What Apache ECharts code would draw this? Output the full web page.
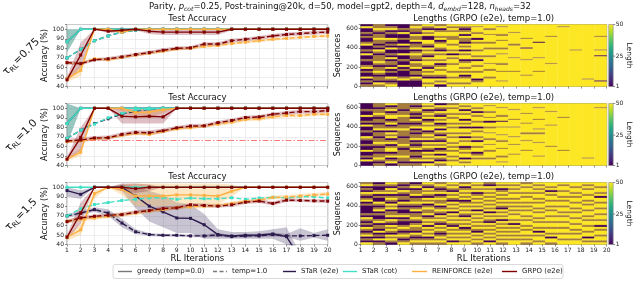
<!DOCTYPE html>
<html><head><meta charset="utf-8">
<script src="https://cdn.jsdelivr.net/npm/echarts@6/dist/echarts.min.js"></script>
<style>html,body{margin:0;padding:0;background:#fff}#c{width:635px;height:281px}</style>
</head><body><div id="c"></div>
<script>
// ---------------- DATA ----------------
const iterations = ['1','2','3','4','5','6','7','8','9','10','11','12','13','14','15','16','17','18','19','20'];
const accTicks = [40,50,60,70,80,90,100];
const seqTicks = [0,200,400,600];
const rowLabels = ['0.75','1.0','1.5'];
const chanceLevel = 66.7; // tau=1.0 reference line

// tau = 0.75
const r1_starE2E_g = [87,100,100,100,100,100,100,100,100,100,100,100,100,100,100,100,100,100,100,100];
const r1_starE2E_t = [70,79,88,93,97,99,100,100,100,100,100,100,100,100,100,100,100,100,100,100];
const r1_starCot_g = [87,100,100,100,100,100,100,100,100,100,100,100,100,100,100,100,100,100,100,100];
const r1_starCot_t = [70,79,88,93,97,99,100,100,100,100,100,100,100,100,100,100,100,100,100,100];
const r1_reinf_g = [48,57,100,100,97,100,100,100,100,100,100,100,100,100,100,100,100,100,100,100];
const r1_reinf_t = [65,64,69,68,70.5,73,75,77,79.5,80,82,83,85,86.5,88,89.5,90.5,91.5,92.5,93];
const r1_grpo_g = [47,73,100,98,99,100,98,97,97,97,97,97,100,100,100,100,100,100,100,100];
const r1_grpo_t = [65,64,68,69,71,73.5,75.5,78,80,80.5,84.5,84.5,88,89.5,91,93,94.5,95.5,96.5,97];
const r1_starCot_g_lo = [76,100,100,100,100,100,100,100,100,100,100,100,100,100,100,100,100,100,100,100];
const r1_starCot_g_hi = [100,100,100,100,100,100,100,100,100,100,100,100,100,100,100,100,100,100,100,100];
const r1_reinf_g_lo = [45,51,100,99,95,99,100,100,100,100,100,100,100,100,100,100,100,100,100,100];
const r1_reinf_g_hi = [52,62,100,100,100,100,100,100,100,100,100,100,100,100,100,100,100,100,100,100];
const r1_grpo_g_lo = [45,60,100,96,97,99,95,94,94,94,94,94,99,100,100,100,100,100,100,100];
const r1_grpo_g_hi = [50,86,100,100,100,100,100,100,100,100,100,100,100,100,100,100,100,100,100,100];
const r1_reinf_t_lo = [63.5,62.5,67.5,66.5,69,71.5,73.5,75.5,78,78.5,80.5,81.5,83.5,85,86.5,88,89,90,91,91.5];
const r1_reinf_t_hi = [66.5,65.5,70.5,69.5,72,74.5,76.5,78.5,81,81.5,83.5,84.5,86.5,88,89.5,91,92,93,94,94.5];
const r1_grpo_t_lo = [63,62,66.5,67,69,71.5,73.5,76,78,78.5,82.5,82.5,86,87.5,89,91,92.5,93.5,94.5,95];
const r1_grpo_t_hi = [67,66,69.5,71,73,75.5,77.5,80,82,82.5,86.5,86.5,90,91.5,93,95,96.5,97.5,98.5,99];

// tau = 1.0
const r2_starE2E_g = [84,100,100,100,100,100,100,100,100,100,100,100,100,100,100,100,100,100,100,100];
const r2_starE2E_t = [68.4,77,84,89,94,97,99,100,100,100,100,100,100,100,100,100,100,100,100,100];
const r2_starCot_g = [84,100,100,100,100,100,100,100,100,100,100,100,100,100,100,100,100,100,100,100];
const r2_starCot_t = [68.4,77,83.4,90,94.5,98,99,100,100,100,100,100,100,100,100,100,100,100,100,100];
const r2_reinf_g = [46.6,54,100,100,100,95.5,96,98.5,100,100,100,100,100,100,100,100,100,100,100,100];
const r2_reinf_t = [65,66,68,69,71.6,73.6,72.6,75.7,78.5,79.5,81.3,83.4,85.4,88.2,88.9,91,92.4,92.4,93.8,93.8];
const r2_grpo_g = [46.6,69.5,100,100,91.7,91,91.7,91,100,100,100,100,100,100,100,100,100,100,100,100];
const r2_grpo_t = [65.7,66.7,68.8,69.1,72.6,74.7,74.3,76.4,79.5,81.3,81.6,85,87.2,90.3,91,93.8,95.1,96.5,96.5,97.6];
const r2_starCot_g_lo = [62,100,100,100,100,100,100,100,100,100,100,100,100,100,100,100,100,100,100,100];
const r2_starCot_g_hi = [105,100,100,100,100,100,100,100,100,100,100,100,100,100,100,100,100,100,100,100];
const r2_reinf_g_lo = [45,50,100,100,97,90,90,95,100,100,100,100,100,100,100,100,100,100,100,100];
const r2_reinf_g_hi = [48,58,100,100,100,100,100,100,100,100,100,100,100,100,100,100,100,100,100,100];
const r2_grpo_g_lo = [45,56,100,100,84,84,84,84,100,100,100,100,100,100,100,100,100,100,100,100];
const r2_grpo_g_hi = [49,80,100,100,100,100,100,100,100,100,100,100,100,100,100,100,100,100,100,100];
const r2_reinf_t_lo = [63.5,64.5,66.5,67.5,70,72,71,74,77,78,79.5,81.5,83.5,86.5,87,89,90.5,90.5,92,92];
const r2_reinf_t_hi = [66.5,67.5,69.5,70.5,73,75,74,77.5,80,81,83,85.3,87.3,90,90.8,93,94.3,94.3,95.6,95.6];
const r2_grpo_t_lo = [63.5,64.5,66.5,67,70.5,72.5,72,74,77.5,79,79.5,83,85,88.5,89,92,93,94.5,94.5,95.5];
const r2_grpo_t_hi = [68,69,71,71.5,74.8,77,76.6,78.8,81.5,83.6,83.8,87,89.4,92.1,93,95.6,97.2,98.5,98.5,99.6];

// tau = 1.5
const r3_starE2E_g = [96.5,92.6,100,100,100,90.8,80.2,74.2,67.8,67.4,60.7,50.4,49,49.7,50,51,48.3,25,25,25];
const r3_starE2E_t = [70,73,76.6,73,62.5,53.3,50.4,49.7,49.7,49,49,50,48.3,49,49,50.4,49,49,49.4,49.7];
const r3_starCot_g = [100,100,100,100,100,100,100,100,100,100,100,100,100,100,100,100,100,100,100,100];
const r3_starCot_t = [70,77.3,82,84,86.2,87.3,89,89,87.3,88.7,88,88,89,87.3,88.7,89.4,89,90,90,88.7];
const r3_reinf_g = [47.6,55.4,93.3,100,97.9,90.8,90.8,90.8,92,92,91.5,90.8,95.8,100,100,100,100,100,100,100];
const r3_reinf_t = [64.2,66.7,67.8,69.6,71.3,73,75.2,76.6,79,79.5,80.2,80.9,83,85.1,86.5,89.4,89.7,90.8,91.9,92.9];
const r3_grpo_g = [47.6,73,100,100,100,98.6,100,100,100,100,100,100,100,100,100,100,100,100,100,100];
const r3_grpo_t = [64,67.8,69.6,70.6,71.3,73.8,75.6,77.7,78.4,81.6,80.9,80.2,81.6,84.4,85.5,83,86.5,86.2,85.8,85.5];
const r3_starE2E_g_lo = [90,88,100,100,96,78,64,58,52,52,46,46,46,46,46,46,40,20,20,20];
const r3_starE2E_g_hi = [100,97,100,100,103,101,96,92,84,82,72,56,53,53,54,56,58,30,30,30];
const r3_starE2E_t_lo = [68,71,74,70,58,51,49,48,48,47.5,47.5,48,47,47.5,47.5,48.5,47.5,44,47,44];
const r3_starE2E_t_hi = [72,75,79,77,67,56,52,51,51,50.5,50.5,52,50,51,51,52.5,51,57,52,56];
const r3_reinf_g_lo = [44,50,88,100,92,80,80,80,82,82,82,82,90,100,100,100,100,100,100,100];
const r3_reinf_g_hi = [51,61,97,100,103,104,104,104,104,104,104,104,103,100,100,100,100,100,100,100];
const r3_grpo_g_lo = [45,62,100,100,96,94,96,100,100,100,100,100,100,100,100,100,100,100,100,100];
const r3_grpo_g_hi = [50,84,100,100,104,104,103,100,100,100,100,100,100,100,100,100,100,100,100,100];
const r3_reinf_t_lo = [62,64.5,66,67.5,69,71,73,74.5,77,77.5,78,79,81,83,84.5,87.5,87.5,89,90,91];
const r3_reinf_t_hi = [66.5,69,70,71.5,73.5,75,77.5,79,81,81.5,82.5,83,85,87,88.5,91.5,92,93,94,95];
const r3_grpo_t_lo = [62,66,67.5,68.5,69.5,72,73.5,75.5,76.5,79.5,79,78.5,79.5,82.5,83.5,81,84.5,84.5,84,83.5];
const r3_grpo_t_hi = [66,70,71.5,72.5,73.5,76,77.5,80,80.5,83.5,83,82,83.5,86.5,87.5,85,88.5,88,87.5,87.5];

// Heatmap columns (RL iterations 1..20), each char = 20 sequences top(640) -> bottom(0)
// P = short (purple), B = mixed (brown), Y = length 50 (yellow); lowercase = thin stripe
const heat1Cols = [
 "PYPPBPBPPBYPPBPYPPBPPBYPBPPYPBPB","BBYBPBBYBBPBPYBPBBBYBPBBYBPBBPYB","PBYPBPPYBPBPYPPBPYPBBPYPBPPYBPBY",
 "PPBPYPPBPPYPBPPYPPBPPYPBPPPBYPPP","BYBBPYBBYPBBYPBYBBPYBBYPBBPYBPPP","YBPYBYPPYYBPYBYBPYBYYBPYBYBPYYBY",
 "BYPBYYBYPBYYBPYBYYBYPBYBYYBPYBYP","YBYBYYBBYYBYYBYPYBYYBYYYBYYBYYBY","YBPBYPYBBPYBYPYBYYPBYYBYBYPBYYBY",
 "YbYYBYYPYBYYYBYYBYPYYBYYBYYYPBYY","YYBYYbYYYBYYBYYYBYYYbYYBYYYBYYYY","YbYYYBYYbYYYBYYbYYYYBYYYbYYYYbYY",
 "YYYYbYYYYYBYYYYYYbYYYYYYbYYYYYYY","YYYYYYYbYYYYpYYYYYbYYYYYYYbYYYYY","YYYYYYYYYpYYYYYYYbYYYYYYbYYYYYYY",
 "YYYYYYbYYYYYYYYYYYYYbYYYYYYYYYYY","YbYYYYYYYYYYYYYYYYYYYYYYYYYYYYYY","YYYYYYYYYYYYYbYYYYYYYYYYYYYYYYYY",
 "YYYYYYYYYYYYYYYYYYYYYYYYYYYYbYYY","YYYYYYbYYYYYYbYYpYYYYYYYYYYYYpYY"];
const heat2Cols = [
 "PPPBPPYPPBPYPPBPPYBPPBPPYPPBPYPP","BBPBBYBPBBPBBYPBBPBBYBPBBPBBYBPB","YPBYPBYYPBYPBYPYBYPBYPBYYPBYPBYP",
 "BBBPBBYBBBPBBYBBBPBBBYBPBBBYBBPB","BPBYBPBPYBPBYPBPBBYPBPBYPBBPBYPB","YBYPBYBYPBYBYYPBYBYPYBYBPYBYBYPY",
 "PYBPYBPYBYPBYPYBPYBPYBYPBYPYBPYB","BYBYYBYBYYBYBYYBYBYYBYBYBYYBYBYY","YBYPYBYYPYBYPYYBYPYBYYPBYBYYPYBY",
 "YYBYPYBYYBYYPYBYYBYPYYBYYPBYBYYY","YbYYBYYbYPYYBYYbYYBYYbYYBYYYBYYY","YYbYYYBYYpYYbYYYbYYBYYYbYYYBYYbY",
 "YYYbYYYYbYYYbYYYYbYYYbYYYYbYYYYY","YYYYYbYYYYbYYYYBYYYbYYYYbYYYYYYY","YYbYYYYYbYYYYbYBYYYYbYYYYYYbYYYY",
 "YYYYbYYYYYYbYYYYYYYYYYbYYYYYYYYY","YYYYYYYbYYYYYYYYYYYYYYYYbYYYYYYY","YYYYYYYYYYYYYYYYYYYYYYYYYYYYYYYY",
 "YYYYYYYYYYYYYYYYYYYYYYYYYYYYbYYY","YYbYYYYYYYYYYYYYYYYYYYYYYYYYYYYY"];
const heat3Cols = [
 "BYPBPYBPBYPBPPPPBPYBPBPYBPBYPBPY","PBPPBYPBPPYBPBYPBPPBYPBBPYPBPYPB","YBPYBYPBYBPYBYPBBYPYBPYBYBPYBYBP",
 "BPBPYBPBBPYBPBPPBYPBPPBYBPBYBPBY","PBYPBBYPBBYBPBYPBBYBPBYBBPYBPBYB","YBPYBYBPYBYPBYBBYPBYBYPYBYBYPBYB",
 "BYBPBYPBYBBYPBYBPYBYBPYBYBPBYBYB","YBYBPYBYBPYBYBYPYBYBYBPYBYBYBYPY","BYPBYBYBYPBYBYBYBPYBYBYPBYBYBYBY",
 "YBYBYPBYBYBYBYPYBYBYBYBYBPYBYBYB","BPYBYBYBYBYBYBYPYBYBPYBYBYBYBYPY","YBYPBYBYBYBYBPYBYBYPYBYBYBYBYBYB",
 "YBYBYBYYBYBYBYBYBYYBYPYBYBYBYBYY","BYBYYBYBYYBYBYBYYBYBYYBYBYYBYBYB","YBYBYBYYBYBYYBYBYYBYBYYBYPYBYYBY",
 "YYBYPYBYYBYYBYBYYBYYBYYBYYBYPYYB","YBYYBYYBYBYYBYYBYBYYBYYBYYBYYBYY","YYBYYBYBYYBYYBYBYYBYYBYYBYBYYBYY",
 "YBYBYYBYYBYBYYBYYBYBYYBYYBYYPYBY","YYBYYBYPYYBYYBYYBYYBYYPYBYYBYYBY"];

const lengthTicks = [1,25,50];

// ---------------- LAYOUT / STYLE ----------------
const FONT = 'DejaVu Sans';
const TOPS = [24.5, 103.5, 182.5], H = 62;
const LL = 67, LW = 260.7, HL = 360.7, HW = 246;
const C = {starE2E:'#2c1a4d', starCot:'#3fe0c5', reinf:'#fdb03f', grpo:'#800000'};
const BAND = {starE2E:['#3a2a5c',0.28], starCot:['#2f8f80',0.5], reinf:['#fdb03f',0.3], grpo:['#8a1a2a',0.28]};
const HEATPAL = ['#440154','#a57c3b','#fde725'];
const FRAME = '#8c8c8c';

const rows = [
 {sg:r1_starE2E_g, st:r1_starE2E_t, cg:r1_starCot_g, ct:r1_starCot_t, rg:r1_reinf_g, rt:r1_reinf_t, gg:r1_grpo_g, gt:r1_grpo_t,
  bands:[['starCot',r1_starCot_g_lo,r1_starCot_g_hi],['reinf',r1_reinf_g_lo,r1_reinf_g_hi],['grpo',r1_grpo_g_lo,r1_grpo_g_hi],
         ['reinf',r1_reinf_t_lo,r1_reinf_t_hi],['grpo',r1_grpo_t_lo,r1_grpo_t_hi]], heat:heat1Cols},
 {sg:r2_starE2E_g, st:r2_starE2E_t, cg:r2_starCot_g, ct:r2_starCot_t, rg:r2_reinf_g, rt:r2_reinf_t, gg:r2_grpo_g, gt:r2_grpo_t,
  bands:[['starCot',r2_starCot_g_lo,r2_starCot_g_hi],['reinf',r2_reinf_g_lo,r2_reinf_g_hi],['grpo',r2_grpo_g_lo,r2_grpo_g_hi],
         ['reinf',r2_reinf_t_lo,r2_reinf_t_hi],['grpo',r2_grpo_t_lo,r2_grpo_t_hi]], heat:heat2Cols, ref:chanceLevel},
 {sg:r3_starE2E_g, st:r3_starE2E_t, cg:r3_starCot_g, ct:r3_starCot_t, rg:r3_reinf_g, rt:r3_reinf_t, gg:r3_grpo_g, gt:r3_grpo_t,
  bands:[['starE2E',r3_starE2E_g_lo,r3_starE2E_g_hi],['starE2E',r3_starE2E_t_lo,r3_starE2E_t_hi],['reinf',r3_reinf_g_lo,r3_reinf_g_hi],
         ['grpo',r3_grpo_g_lo,r3_grpo_g_hi],['reinf',r3_reinf_t_lo,r3_reinf_t_hi],['grpo',r3_grpo_t_lo,r3_grpo_t_hi]], heat:heat3Cols}
];

function heatData(cols){
  const out=[];
  cols.forEach((s,ci)=>{
    const unit = 640/s.length, half=[];
    for (const ch of s){ if (ch===ch.toLowerCase()) half.push(ch.toUpperCase(),'Y'); else half.push(ch,ch); }
    let i=0;
    while(i<half.length){ let j=i; while(j<half.length && half[j]===half[i]) j++;
      out.push([ci, 640 - j*unit/2, 640 - i*unit/2, 'PBY'.indexOf(half[i])]); i=j; }
  });
  return out;
}

const grids=[], xAxes=[], yAxes=[], series=[], graphics=[];
const tickLabel = {fontFamily:FONT, fontSize:6, color:'#222'};

rows.forEach((r,ri)=>{
  const last = ri===2;
  // line grid
  const gi = grids.length;
  grids.push({left:LL, top:TOPS[ri], width:LW, height:H, show:true, borderColor:FRAME, borderWidth:1, backgroundColor:'transparent'});
  xAxes.push({type:'category', gridIndex:gi, data:iterations, boundaryGap:false,
    axisLine:{show:false}, axisTick:{show:true, length:2, lineStyle:{color:'#444',width:0.6}},
    axisLabel:Object.assign({show:last, margin:3, interval:0}, tickLabel),
    splitLine:{show:true, lineStyle:{color:'#e6e6e6', width:0.7}},
    name: last?'RL Iterations':'', nameLocation:'middle', nameGap:10, nameTextStyle:{fontFamily:FONT,fontSize:8.5,color:'#111'}});
  yAxes.push({type:'value', gridIndex:gi, min:40, max:105, interval:10,
    axisLine:{show:false}, axisTick:{show:true, length:2, lineStyle:{color:'#444',width:0.6}},
    axisLabel:Object.assign({margin:3, formatter:v=>accTicks.includes(v)?String(v):''}, tickLabel),
    splitLine:{show:true, lineStyle:{color:'#e6e6e6', width:0.7}},
    name:'Accuracy (%)', nameLocation:'middle', nameGap:15, nameRotate:90,
    nameTextStyle:{fontFamily:FONT,fontSize:8,color:'#111'}});
  // bands
  r.bands.forEach((b,bi)=>{
    const st = 'band'+ri+'_'+bi;
    series.push({type:'line', xAxisIndex:gi, yAxisIndex:gi, stack:st, data:b[1], symbol:'none', silent:true,
      lineStyle:{opacity:0}, z:1});
    series.push({type:'line', xAxisIndex:gi, yAxisIndex:gi, stack:st, data:b[2].map((h,k)=>h-b[1][k]), symbol:'none', silent:true,
      lineStyle:{opacity:0}, areaStyle:{color:BAND[b[0]][0], opacity:BAND[b[0]][1]}, z:1});
  });
  const addLine=(data,color,dashed,z)=>series.push({type:'line', xAxisIndex:gi, yAxisIndex:gi, data, symbol:'rect', symbolSize:3,
    itemStyle:{color}, lineStyle:{color, width:1.4, type: dashed?[5,2.5]:'solid'}, z, clip:true});
  addLine(r.st,C.starE2E,true,3); addLine(r.sg,C.starE2E,false,3);
  addLine(r.ct,C.starCot,true,4); addLine(r.cg,C.starCot,false,4);
  addLine(r.rt,C.reinf,true,5); addLine(r.rg,C.reinf,false,5);
  addLine(r.gt,C.grpo,true,6); addLine(r.gg,C.grpo,false,6);
  if (r.ref!==undefined){
    series.push({type:'line', xAxisIndex:gi, yAxisIndex:gi, data:[], markLine:{silent:true, symbol:'none', label:{show:false},
      lineStyle:{color:'#ff5a5a', width:1, opacity:0.8, type:[6,2,1.5,2]}, data:[{yAxis:r.ref}]}, z:2});
  }
  // heatmap grid
  const hi = grids.length;
  grids.push({left:HL, top:TOPS[ri], width:HW, height:H, show:true, borderColor:FRAME, borderWidth:1, backgroundColor:'transparent'});
  xAxes.push({type:'value', gridIndex:hi, min:1, max:20, interval:1,
    axisLine:{show:false}, axisTick:{show:true, length:2, lineStyle:{color:'#444',width:0.6}},
    axisLabel:Object.assign({show:last, margin:3}, tickLabel), splitLine:{show:false},
    name: last?'RL Iterations':'', nameLocation:'middle', nameGap:10, nameTextStyle:{fontFamily:FONT,fontSize:8.5,color:'#111'}});
  yAxes.push({type:'value', gridIndex:hi, min:0, max:640, interval:200,
    axisLine:{show:false}, axisTick:{show:true, length:2, lineStyle:{color:'#444',width:0.6}},
    axisLabel:Object.assign({margin:3, formatter:v=>seqTicks.includes(v)?String(v):''}, tickLabel), splitLine:{show:false},
    name:'Sequences', nameLocation:'middle', nameGap:17, nameRotate:90, nameTextStyle:{fontFamily:FONT,fontSize:8,color:'#111'}});
  series.push({type:'custom', xAxisIndex:hi, yAxisIndex:hi, data:heatData(r.heat), silent:true, z:0,
    renderItem:(params, api)=>{
      const col=api.value(0), s0=api.value(1), s1=api.value(2), c=api.value(3);
      const p0=api.coord([1+col*19/20, s1]), p1=api.coord([1+(col+1)*19/20, s0]);
      return {type:'rect', shape:{x:p0[0], y:p0[1], width:p1[0]-p0[0], height:p1[1]-p0[1]},
        style:{fill:HEATPAL[c], stroke:HEATPAL[c], lineWidth:0.3}};
    }});

  // titles
  graphics.push({type:'text', x:LL+LW/2, y:TOPS[ri]-1, style:{text:'Test Accuracy', font:'8.5px '+FONT, fill:'#111', align:'center', verticalAlign:'bottom'}});
  graphics.push({type:'text', x:HL+HW/2, y:TOPS[ri]-1, style:{text:'Lengths (GRPO (e2e), temp=1.0)', font:'8.5px '+FONT, fill:'#111', align:'center', verticalAlign:'bottom'}});
  // row label
  graphics.push({type:'text', x:22, y:TOPS[ri]+H/2+2, rotation:Math.PI/4,
    style:{text:'{a|τ}{b|RL}{a|='+rowLabels[ri]+'}', align:'center', verticalAlign:'middle',
      rich:{a:{fontFamily:FONT,fontSize:10.5,fill:'#111',verticalAlign:'top',lineHeight:13},
            b:{fontFamily:FONT,fontSize:7,fill:'#111',verticalAlign:'top',lineHeight:13,padding:[5,0,0,0]}}}});
  // colorbar
  const cx=608.7, cw=4.5, top=TOPS[ri];
  graphics.push({type:'rect', shape:{x:cx, y:top, width:cw, height:H},
    style:{fill:new echarts.graphic.LinearGradient(0,1,0,0,[
      {offset:0,color:'#440154'},{offset:0.111,color:'#482878'},{offset:0.222,color:'#3e4989'},{offset:0.333,color:'#31688e'},
      {offset:0.444,color:'#26828e'},{offset:0.556,color:'#1f9e89'},{offset:0.667,color:'#35b779'},{offset:0.778,color:'#6ece58'},
      {offset:0.889,color:'#b5de2b'},{offset:1,color:'#fde725'}]), stroke:FRAME, lineWidth:0.6}});
  lengthTicks.forEach(v=>{
    const yy = top + H - (v-1)/49*H;
    graphics.push({type:'line', shape:{x1:cx+cw, y1:yy, x2:cx+cw+2, y2:yy}, style:{stroke:'#444', lineWidth:0.6}});
    graphics.push({type:'text', x:cx+cw+2.5, y:yy, style:{text:String(v), font:'6px '+FONT, fill:'#222', align:'left', verticalAlign:'middle'}});
  });
  graphics.push({type:'text', x:629, y:top+H/2, rotation:-Math.PI/2,
    style:{text:'Length', font:'7.5px '+FONT, fill:'#111', align:'center', verticalAlign:'middle'}});
});

// suptitle
graphics.push({type:'text', x:340, y:8, style:{
  text:'{n|Parity, }{i|p}{s|cot}{n|=0.25, Post-training@20k, d=50, model=gpt2, depth=4, }{i|d}{s|embd}{n|=128, }{i|n}{s|heads}{n|=32}',
  align:'center', verticalAlign:'middle',
  rich:{n:{fontFamily:FONT,fontSize:8.5,fill:'#111',verticalAlign:'top',lineHeight:12},
        i:{fontFamily:FONT,fontSize:8.5,fontStyle:'italic',fill:'#111',verticalAlign:'top',lineHeight:12},
        s:{fontFamily:FONT,fontSize:6,fontStyle:'italic',fill:'#111',verticalAlign:'top',lineHeight:12,padding:[4,0,0,0]}}}});

// legend (drawn as graphic)
const legendItems = [
  ['greedy (temp=0.0)','#777',false,118,132,137],
  ['temp=1.0','#777',true,213,227,232],
  ['STaR (e2e)',C.starE2E,false,283,296,301],
  ['STaR (cot)',C.starCot,false,343,357,362],
  ['REINFORCE (e2e)',C.reinf,false,412,427,432],
  ['GRPO (e2e)',C.grpo,false,502,517,522]];
graphics.push({type:'rect', shape:{x:113, y:264.5, width:450, height:14, r:2}, style:{fill:'#fff', stroke:'#d0d0d0', lineWidth:0.8}});
legendItems.forEach(it=>{
  graphics.push({type:'line', shape:{x1:it[3], y1:271.5, x2:it[4], y2:271.5}, style:{stroke:it[1], lineWidth:1.4, lineDash: it[2]?[4,2.5]:null}});
  graphics.push({type:'text', x:it[5], y:271.5, style:{text:it[0], font:'7px '+FONT, fill:'#222', align:'left', verticalAlign:'middle'}});
});

const chart = echarts.init(document.getElementById('c'), null, {renderer:'canvas'});
chart.setOption({animation:false, backgroundColor:'#fff', grid:grids, xAxis:xAxes, yAxis:yAxes, series, graphic:graphics});
</script></body></html>
